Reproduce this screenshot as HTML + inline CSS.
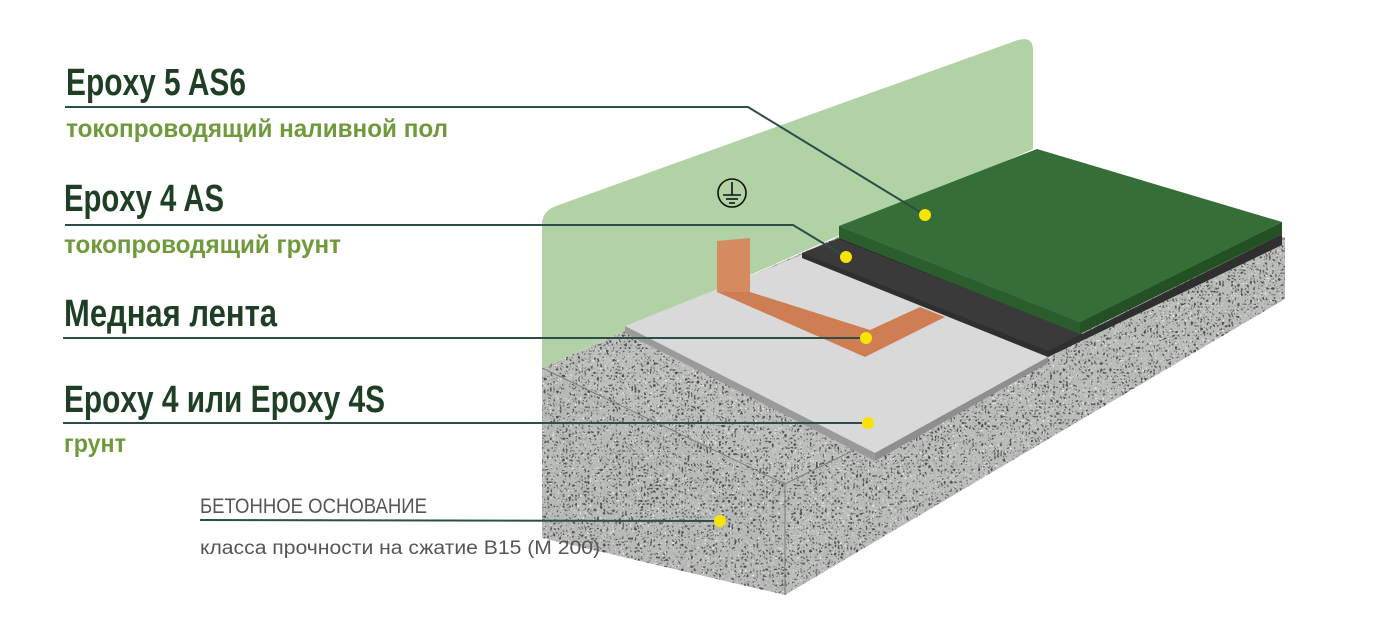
<!DOCTYPE html>
<html><head><meta charset="utf-8"><style>
html,body{margin:0;padding:0;background:#fff;width:1377px;height:642px;overflow:hidden}
svg{display:block}
text{font-family:"Liberation Sans",sans-serif}
</style></head><body>
<svg width="1377" height="642" viewBox="0 0 1377 642" xmlns="http://www.w3.org/2000/svg">
<defs>
<filter id="conc" x="0" y="0" width="100%" height="100%" color-interpolation-filters="sRGB">
<feTurbulence type="turbulence" baseFrequency="0.32" numOctaves="2" seed="3" result="n"/>
<feColorMatrix in="n" type="matrix" values="0 0 0 0 0.3  0 0 0 0 0.31  0 0 0 0 0.3  5 0 0 0 -1.7" result="d"/>
<feComposite in="d" in2="SourceGraphic" operator="in" result="dd"/>
<feTurbulence type="turbulence" baseFrequency="0.4" numOctaves="1" seed="9" result="n2"/>
<feColorMatrix in="n2" type="matrix" values="0 0 0 0 0.93  0 0 0 0 0.93  0 0 0 0 0.93  0 5 0 0 -1.6" result="l"/>
<feComposite in="l" in2="SourceGraphic" operator="in" result="ll"/>
<feMerge><feMergeNode in="SourceGraphic"/><feMergeNode in="ll"/><feMergeNode in="dd"/></feMerge>
</filter>
</defs>
<path d="M542,225 Q542,211 556,206 L1018,40 Q1033,36 1033,50 L1033,149 L542,368 Z" fill="#b1d2a4"/>
<g filter="url(#conc)">
<polygon points="542,368 1037,149 1285,238 785,484" fill="#bcbebb"/>
<polygon points="542,368 785,484 785,595 542,538" fill="#b8bab7"/>
<polygon points="785,484 1285,238 1285,299 785,595" fill="#babcb9"/>
</g>
<polyline points="542,368 785,484 1285,238" fill="none" stroke="#7a7c79" stroke-width="1"/>
<line x1="785" y1="484" x2="785" y2="595" stroke="#7a7c79"/>
<polygon points="625,326 802,255 1048,357 875,453" fill="#d9d9d9"/>
<polygon points="625,326 875,453 875,461 625,333" fill="#9a9a9a"/>
<polygon points="875,453 1048,357 1048,363 875,461" fill="#8e8e8e"/>
<polygon points="802,253 840,238 1082,334 1282,234 1282,245 1048,357 802,258" fill="#2f2f2f"/>
<polygon points="802,253 838,239 1082,334 1048,351" fill="#3a3a3a"/>
<polygon points="839,226 1037,149 1282,222 1080,322" fill="#356e36"/>
<polygon points="839,226 1080,322 1080,334 839,238" fill="#2c5e2d"/>
<polygon points="1080,322 1282,222 1282,234 1080,334" fill="#245124"/>
<polygon points="717,241 750,238 750,292 717,292" fill="#d68a5f"/>
<polygon points="717,292 865,357 945,317 920,307 870,330 750,292" fill="#cf7d52"/>
<circle cx="732" cy="193" r="14" fill="none" stroke="#111" stroke-width="1.6"/>
<line x1="732" y1="182" x2="732" y2="195" stroke="#111" stroke-width="1.6"/>
<line x1="723" y1="195" x2="741" y2="195" stroke="#111" stroke-width="1.6"/>
<line x1="726" y1="199" x2="738" y2="199" stroke="#111" stroke-width="1.6"/>
<line x1="729" y1="203" x2="735" y2="203" stroke="#111" stroke-width="1.6"/>
<g fill="none" stroke="#2d4d48" stroke-width="2">
<polyline points="65,107 748,107 925,215"/>
<polyline points="65,225 793,225 846,257"/>
<polyline points="63,338 866,338"/>
<polyline points="63,423 868,423"/>
<polyline points="200,520 720,521"/>
</g>
<g fill="#f7e400">
<circle cx="925" cy="215" r="6"/><circle cx="846" cy="257" r="6"/><circle cx="866" cy="338" r="6"/><circle cx="868" cy="423" r="6"/><circle cx="720" cy="521" r="6"/>
</g>
<g fill="#1f3f25" font-weight="bold">
<text x="66" y="95" font-size="38" textLength="180" lengthAdjust="spacingAndGlyphs">Epoxy 5 AS6</text>
<text x="64" y="211" font-size="38" textLength="160" lengthAdjust="spacingAndGlyphs">Epoxy 4 AS</text>
<text x="64" y="326" font-size="38" textLength="213" lengthAdjust="spacingAndGlyphs">Медная лента</text>
<text x="64" y="412" font-size="38" textLength="321" lengthAdjust="spacingAndGlyphs">Epoxy 4 или Epoxy 4S</text>
</g>
<g fill="#6f9a3c" font-weight="bold">
<text x="66" y="137" font-size="25" textLength="382" lengthAdjust="spacingAndGlyphs">токопроводящий наливной пол</text>
<text x="64" y="253" font-size="25" textLength="277" lengthAdjust="spacingAndGlyphs">токопроводящий грунт</text>
<text x="64" y="452" font-size="25" textLength="62" lengthAdjust="spacingAndGlyphs">грунт</text>
</g>
<g fill="#555">
<text x="200" y="513" font-size="21" textLength="227" lengthAdjust="spacingAndGlyphs">БЕТОННОЕ ОСНОВАНИЕ</text>
<text x="200" y="554" font-size="19" textLength="400" lengthAdjust="spacingAndGlyphs">класса прочности на сжатие В15 (М 200)</text>
</g>
</svg>
</body></html>
